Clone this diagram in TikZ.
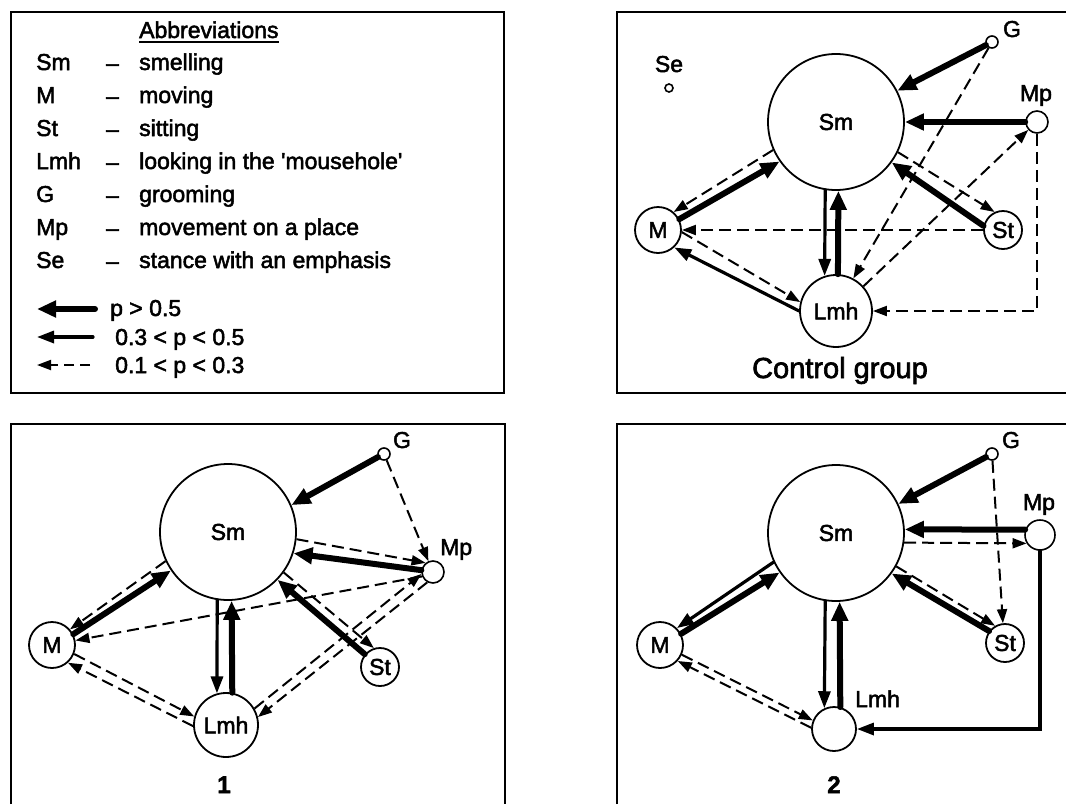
\documentclass[tikz,border=0pt]{standalone}
\usepackage{fontspec}
\setmainfont{Liberation Sans}[FakeBold=2.2]
\usetikzlibrary{arrows.meta}
\newcommand{\lblfont}{\fontsize{23}{27}\selectfont}
\newcommand{\capfont}{\fontsize{29}{34}\selectfont}
\newcommand{\numfont}{\fontsize{24}{28}\selectfont\bfseries}
\tikzset{
  state/.style={circle, draw, line width=1.8pt, inner sep=0pt, fill=white, font=\lblfont},
  dot/.style={circle, draw, line width=1.6pt, inner sep=0pt, fill=white},
  strong/.style={line width=6pt, line cap=round, -{Triangle[length=19pt,width=16pt]}},
  mid/.style={line width=3.2pt, line cap=round, -{Triangle[length=17pt,width=12pt]}},
  weak/.style={line width=2pt, dash pattern=on 12pt off 6pt, -{Triangle[length=14pt,width=10pt]}},
  frame/.style={line width=2pt},
  lbl/.style={inner sep=0pt, font=\lblfont},
}
\begin{document}
\begin{tikzpicture}[x=1pt, y=-1pt]
\useasboundingbox (0,0) rectangle (1066,804);

% ---------- frames ----------
\draw[frame] (11,12) rectangle (504,393);
\draw[frame] (1066,12) -- (617,12) -- (617,393) -- (1066,393);
\draw[frame] (11,804) -- (11,424) -- (505,424) -- (505,804);
\draw[frame] (617,804) -- (617,424) -- (1066,424);

% ---------- legend ----------
\node[lbl, anchor=base west] (abh) at (139,38) {Abbreviations};
\draw[line width=1.6pt] ([yshift=-4pt]abh.base west) -- ([yshift=-4pt]abh.base east);

\node[lbl, anchor=base west] (ab1) at (36,70)  {Sm};
\node[lbl, anchor=base west] (ab2) at (36,103) {M};
\node[lbl, anchor=base west] (ab3) at (36,136) {St};
\node[lbl, anchor=base west] (ab4) at (36,169) {Lmh};
\node[lbl, anchor=base west] (ab5) at (36,202) {G};
\node[lbl, anchor=base west] (ab6) at (36,235) {Mp};
\node[lbl, anchor=base west] (ab7) at (36,268) {Se};

\foreach \yb [count=\i] in {70,103,136,169,202,235,268}
  \node[lbl, anchor=base west] (dash\i) at (106,\yb+1) {--};

\node[lbl, anchor=base west] (de1) at (139,70)  {smelling};
\node[lbl, anchor=base west] (de2) at (139,103) {moving};
\node[lbl, anchor=base west] (de3) at (139,136) {sitting};
\node[lbl, anchor=base west] (de4) at (139,169) {looking in the \textquotesingle mousehole\textquotesingle};
\node[lbl, anchor=base west] (de5) at (139,202) {grooming};
\node[lbl, anchor=base west] (de6) at (139,235) {movement on a place};
\node[lbl, anchor=base west] (de7) at (139,268) {stance with an emphasis};

\coordinate (k1s) at (95,309); \coordinate (k1e) at (37,309);
\coordinate (k2s) at (93,337); \coordinate (k2e) at (37,337);
\coordinate (k3s) at (90,365); \coordinate (k3e) at (37,365);
\draw[strong] (k1s) -- (k1e);
\draw[mid] (k2s) -- (k2e);
\draw[weak, dash pattern=on 10pt off 6pt] (k3s) -- (k3e);
\node[lbl, anchor=base west] (kt1) at (110,316) {p > 0.5};
\node[lbl, anchor=base west] (kt2) at (115,345) {0.3 < p < 0.5};
\node[lbl, anchor=base west] (kt3) at (115,373) {0.1 < p < 0.3};

% ---------- control group ----------
\node[state, minimum size=136pt] (cSm)  at (836,122) {Sm};
\node[state, minimum size=46pt]  (cM)   at (658,230) {M};
\node[state, minimum size=38pt]  (cSt)  at (1003,230) {St};
\node[state, minimum size=72pt]  (cLmh) at (836,311) {Lmh};
\node[dot, minimum size=22pt]    (cMp)  at (1037,122) {};
\node[dot, minimum size=12pt]    (cG)   at (992,42) {};
\node[dot, minimum size=8pt]     (cSe)  at (669,88) {};
\node[lbl, anchor=base] (cSeL) at (669,72) {Se};
\node[lbl, anchor=base] (cGL)  at (1012,37) {G};
\node[lbl, anchor=base] (cMpL) at (1036,101) {Mp};
\node[inner sep=0pt, font=\capfont, anchor=base] (cCap) at (840,378) {Control group};

\draw[strong] (cG.207) -- (cSm.27);
\draw[strong] (cMp.180) -- (cSm.0);
\draw[weak] (cG.240) -- (cLmh.62);
\draw[weak] (cLmh.42) -- (cMp.222);
\draw[weak] (cMp.south) |- (cLmh.east);
\draw[weak] (cSt.180) -- (cM.0);
\draw[strong] (cSt.168) -- (cSm.324);
\draw[weak] (cSm.334) -- (cSt.115);
\draw[weak] (cSm.204) -- (cM.49);
\draw[strong] (cM.27) -- (cSm.215);
\draw[mid] (cSm.261) -- (cLmh.108);
\draw[strong] (cLmh.87) -- (cSm.272);
\draw[weak] (cM.355) -- (cLmh.166);
\draw[mid] (cLmh.180) -- (cM.313);

% ---------- panel 1 ----------
\node[state, minimum size=136pt] (aSm)  at (228,532) {Sm};
\node[state, minimum size=46pt]  (aM)   at (52,645) {M};
\node[state, minimum size=38pt]  (aSt)  at (380,667) {St};
\node[state, minimum size=64pt]  (aLmh) at (226,725) {Lmh};
\node[dot, minimum size=22pt]    (aMp)  at (433,572) {};
\node[dot, minimum size=12pt]    (aG)   at (384,454) {};
\node[lbl, anchor=base] (aGL) at (402,448) {G};
\node[lbl, anchor=base west] (aMpL) at (440,555) {Mp};
\node[inner sep=0pt, font=\numfont, anchor=base] (aCap) at (224,793) {1};

\draw[strong] (aG.207) -- (aSm.23);
\draw[weak] (aG.293) -- (aMp.113);
\draw[weak] (aSm.354) -- (aMp.129);
\draw[strong] (aMp.171) -- (aSm.342);
\draw[weak] (aMp.202) -- (aM.11);
\draw[weak] (aSm.324) -- (aSt.108);
\draw[strong] (aSt.140) -- (aSm.316);
\draw[weak] (aLmh.30) -- (aMp.190);
\draw[weak] (aMp.241) -- (aLmh.14);
\draw[weak] (aSm.205) -- (aM.41);
\draw[strong] (aM.27) -- (aSm.214);
\draw[mid] (aSm.261) -- (aLmh.106);
\draw[strong] (aLmh.79) -- (aSm.273);
\draw[weak] (aM.338) -- (aLmh.165);
\draw[weak] (aLmh.182) -- (aM.312);

% ---------- panel 2 ----------
\node[state, minimum size=136pt] (bSm)  at (836,533) {Sm};
\node[state, minimum size=46pt]  (bM)   at (660,645) {M};
\node[state, minimum size=38pt]  (bSt)  at (1005,643) {St};
\node[state, minimum size=44pt]  (bLmh) at (834,729) {};
\node[dot, minimum size=30pt]    (bMp)  at (1040,535) {};
\node[dot, minimum size=12pt]    (bG)   at (992,454) {};
\node[lbl, anchor=base] (bGL) at (1011,448) {G};
\node[lbl, anchor=base] (bMpL) at (1039,510) {Mp};
\node[lbl, anchor=base west] (bLmhL) at (855,707) {Lmh};
\node[inner sep=0pt, font=\numfont, anchor=base] (bCap) at (834,793) {2};

\draw[strong] (bG.207) -- (bSm.25);
\draw[weak] (bG.274) -- (bSt.96);
\draw[strong] (bMp.160) -- (bSm.3);
\draw[weak] (bSm.352) -- (bMp.212);
\draw[mid] (bMp.south) |- (bLmh.east);
\draw[weak] (bSm.331) -- (bSt.120);
\draw[strong] (bSt.143) -- (bSm.324);
\draw[mid] (bSm.205) -- (bM.45);
\draw[strong] (bM.28) -- (bSm.215);
\draw[mid] (bSm.261) -- (bLmh.115);
\draw[strong] (bLmh.74) -- (bSm.273);
\draw[weak] (bM.336) -- (bLmh.158);
\draw[weak] (bLmh.177) -- (bM.318);
\end{tikzpicture}
\end{document}
